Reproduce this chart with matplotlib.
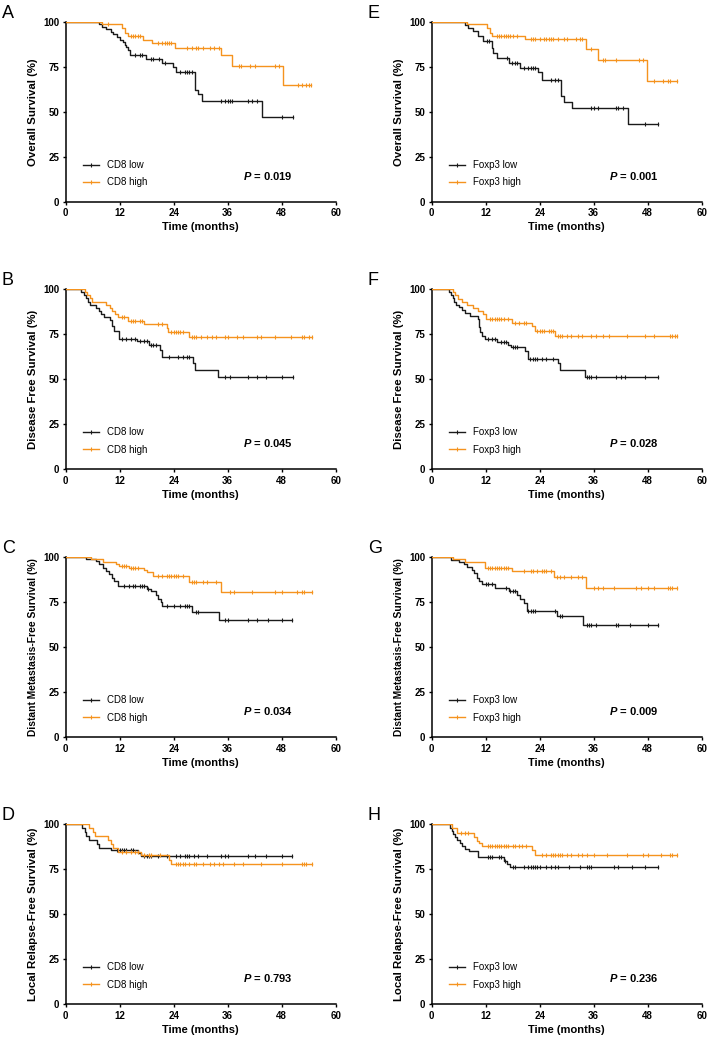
import matplotlib
matplotlib.use('agg')
import matplotlib.pyplot as plt
from matplotlib.lines import Line2D
import numpy as np

plt.rcParams['font.family'] = ['Liberation Sans', 'DejaVu Sans']
plt.rcParams['mathtext.fontset'] = 'custom'
plt.rcParams['mathtext.it'] = 'Liberation Sans:italic:bold'
plt.rcParams['mathtext.rm'] = 'Liberation Sans:bold'

BLACK = '#1a1a1a'
ORANGE = '#f5931e'

# ---- data: event times (months), survival after event (%), censor times ----
# A: OS, CD8
a_low_t = [7.4, 8.0, 9.0, 10.0, 10.6, 11.5, 12.1, 12.7, 13.1, 13.4, 13.8, 14.3, 17.9, 21.3, 23.9, 24.4, 28.7, 29.3, 30.2, 43.7]
a_low_s = [98.7, 97.4, 96.0, 94.6, 93.3, 91.5, 90.2, 88.8, 87.3, 85.9, 84.2, 81.5, 79.5, 77.2, 75.0, 72.5, 62.5, 60.0, 56.2, 47.0]
a_low_c = [15.5, 16.5, 17.0, 19.0, 19.5, 20.7, 22.0, 25.5, 26.5, 27.0, 27.5, 28.0, 34.5, 35.5, 36.0, 36.5, 37.0, 40.5, 41.5, 42.5, 48.0, 50.4]
a_high_t = [8.0, 12.6, 13.2, 13.8, 17.1, 19.1, 24.3, 34.4, 36.9, 48.2]
a_high_s = [98.8, 96.9, 94.0, 92.3, 90.0, 88.1, 85.7, 81.4, 75.6, 65.0]
a_high_c = [9.5, 14.5, 15.0, 15.5, 16.0, 16.5, 20.5, 21.5, 22.0, 22.5, 23.0, 23.5, 27.0, 28.0, 29.0, 29.5, 30.5, 32.0, 33.0, 34.0,
            38.5, 39.0, 41.0, 42.0, 46.5, 47.5, 51.7, 52.5, 53.5, 54.0, 54.5]

# E: OS, Foxp3
e_low_t = [7.4, 8.1, 9.2, 10.3, 11.5, 13.3, 13.7, 14.4, 17.2, 19.6, 23.6, 24.4, 28.8, 29.4, 31.2, 43.6]
e_low_s = [98.5, 96.8, 95.0, 92.5, 89.5, 85.5, 83.0, 80.1, 77.3, 74.6, 72.0, 67.7, 59.0, 55.8, 52.4, 43.6]
e_low_c = [12.2, 12.8, 16.8, 17.8, 18.5, 19.0, 20.5, 21.5, 22.0, 22.5, 23.0, 26.5, 27.5, 28.0, 35.5, 36.0, 37.0, 41.0, 41.5, 42.5, 47.5, 50.3]
e_high_t = [7.8, 12.2, 12.9, 13.5, 20.8, 34.2, 37.0, 47.9]
e_high_s = [98.7, 96.8, 94.0, 92.2, 90.3, 84.8, 79.0, 67.5]
e_high_c = [14.5, 15.0, 15.5, 16.0, 16.5, 17.0, 17.5, 18.0, 19.0, 22.0, 22.5, 23.0, 24.0, 25.0, 25.5, 26.0, 26.5, 27.0, 28.0, 29.5,
            30.0, 32.0, 33.0, 33.5, 35.5, 38.0, 38.5, 41.0, 46.0, 47.0, 49.5, 51.5, 52.5, 53.0, 54.5]

# B: DFS, CD8
b_low_t = [3.5, 4.0, 4.5, 5.0, 5.4, 6.8, 7.3, 7.9, 8.6, 9.9, 10.3, 10.8, 11.8, 15.9, 18.4, 21.0, 21.5, 28.2, 28.7, 33.9]
b_low_s = [98.3, 96.6, 94.9, 93.2, 91.5, 89.8, 88.1, 86.4, 84.7, 83.0, 79.7, 76.6, 72.5, 71.0, 69.3, 66.0, 62.3, 59.0, 55.3, 51.5]
b_low_c = [12.5, 13.5, 14.5, 15.3, 16.5, 17.5, 18.0, 19.0, 19.5, 20.0, 23.0, 25.0, 26.0, 27.0, 27.5, 35.5, 36.5, 40.5, 42.5, 44.5, 48.0, 50.4]
b_high_t = [4.3, 4.8, 5.3, 5.9, 9.0, 9.8, 10.3, 10.9, 11.6, 13.9, 17.4, 22.4, 22.8, 27.5]
b_high_s = [98.3, 96.6, 94.9, 93.2, 91.5, 89.8, 88.1, 86.4, 84.4, 82.6, 80.6, 78.5, 76.4, 73.3]
b_high_c = [12.5, 13.0, 14.5, 15.0, 15.5, 16.5, 17.0, 20.5, 21.5, 23.5, 24.0, 24.5, 25.0, 25.5, 26.0, 28.0, 28.5, 29.0, 30.0, 31.5,
            32.5, 33.5, 35.5, 36.0, 38.0, 39.5, 42.5, 43.5, 46.5, 50.0, 52.5, 53.0, 54.0, 54.7]

# F: DFS, Foxp3
f_low_t = [3.8, 4.3, 4.7, 5.0, 5.5, 6.1, 6.7, 7.4, 8.5, 10.2, 10.5, 10.8, 11.1, 11.8, 14.4, 17.0, 17.6, 20.7, 21.4, 28.1, 28.5, 34.0]
f_low_s = [98.3, 96.6, 94.9, 93.2, 91.5, 90.3, 88.5, 86.7, 85.0, 83.3, 79.0, 76.0, 74.1, 72.4, 70.7, 69.0, 67.8, 65.9, 61.4, 59.0, 55.3, 51.5]
f_low_c = [12.5, 13.5, 14.0, 15.5, 16.0, 16.5, 18.0, 18.5, 19.0, 21.8, 22.5, 23.0, 23.5, 24.5, 25.5, 27.0, 34.5, 35.0, 35.5, 36.5,
           41.0, 42.0, 43.0, 47.5, 50.3]
f_high_t = [4.7, 5.2, 5.9, 6.7, 7.8, 9.2, 10.3, 11.5, 12.0, 17.9, 22.2, 22.9, 27.3]
f_high_s = [98.3, 96.6, 94.8, 93.1, 91.4, 89.7, 88.0, 86.3, 83.5, 81.5, 79.6, 77.0, 74.0]
f_high_c = [13.0, 13.5, 14.0, 14.5, 15.0, 15.5, 16.0, 17.0, 18.5, 19.5, 20.5, 21.0, 23.5, 24.0, 24.5, 25.0, 26.0, 26.5, 27.0, 28.0,
            28.5, 29.0, 30.0, 31.0, 32.5, 33.5, 35.5, 36.5, 38.0, 39.5, 43.5, 47.5, 49.5, 53.0, 53.5, 54.0, 54.5]

# C: DMFS, CD8
c_low_t = [4.4, 6.8, 7.5, 8.3, 9.0, 9.7, 10.2, 10.7, 11.6, 18.0, 18.9, 20.0, 20.6, 21.1, 21.5, 28.0, 34.0]
c_low_s = [98.9, 97.8, 96.1, 94.3, 92.6, 90.9, 88.4, 86.7, 84.0, 82.5, 81.5, 79.0, 77.0, 75.0, 72.7, 69.4, 64.9]
c_low_c = [13.0, 14.0, 15.0, 15.5, 16.5, 17.0, 17.5, 18.3, 22.5, 24.0, 25.5, 26.5, 27.0, 27.5, 29.0, 29.5, 35.5, 36.0, 40.5, 42.5,
           45.0, 48.0, 50.3]
c_high_t = [5.7, 8.3, 11.2, 11.9, 14.1, 17.5, 18.0, 19.3, 27.4, 34.4]
c_high_s = [98.8, 97.6, 96.4, 95.2, 94.0, 92.8, 91.6, 89.4, 86.2, 80.7]
c_high_c = [12.5, 13.0, 13.5, 14.5, 15.0, 15.5, 16.0, 20.5, 21.5, 22.5, 23.0, 23.5, 24.0, 24.5, 25.0, 26.0, 28.0, 28.5, 29.0, 30.5,
            31.5, 33.5, 36.5, 37.5, 41.5, 46.5, 48.0, 51.5, 52.5, 53.0, 54.7]

# G: DMFS, Foxp3
g_low_t = [4.2, 6.0, 7.1, 7.9, 9.0, 9.4, 10.1, 10.5, 11.1, 14.1, 17.2, 18.9, 19.7, 20.4, 21.1, 27.8, 33.7]
g_low_s = [98.7, 97.5, 96.3, 94.6, 92.8, 91.0, 88.5, 86.7, 85.1, 83.0, 81.3, 79.0, 77.0, 74.8, 70.1, 67.4, 62.4]
g_low_c = [12.0, 12.5, 13.5, 16.5, 17.5, 18.0, 18.5, 21.5, 22.0, 22.5, 23.0, 27.5, 28.5, 29.0, 34.5, 35.0, 35.5, 36.5, 41.0, 41.5,
           44.0, 48.0, 50.3]
g_high_t = [4.8, 7.5, 11.8, 17.8, 27.2, 34.3]
g_high_s = [98.8, 97.2, 94.2, 92.2, 88.8, 82.9]
g_high_c = [12.5, 13.0, 13.5, 14.0, 14.5, 15.0, 15.5, 16.0, 16.5, 17.0, 20.5, 22.0, 22.5, 23.5, 24.5, 25.0, 25.5, 26.5, 27.8, 28.5,
            29.5, 31.0, 32.5, 33.5, 36.0, 37.0, 38.0, 40.5, 45.5, 46.5, 48.0, 49.5, 52.5, 53.0, 53.5, 54.5]

# D: LRFS, CD8
d_low_t = [3.7, 4.2, 4.6, 5.1, 7.0, 7.5, 10.1, 16.0, 16.7]
d_low_s = [97.8, 95.6, 93.3, 91.1, 88.9, 86.7, 85.6, 84.0, 82.2]
d_low_c = [11.5, 12.0, 12.5, 13.0, 13.5, 14.5, 15.0, 17.5, 18.0, 18.5, 19.0, 20.5, 22.5, 24.5, 25.5, 26.5, 27.0, 27.5, 28.5, 29.5,
           31.5, 34.5, 35.5, 36.0, 40.5, 42.0, 44.5, 48.0, 50.3]
d_high_t = [5.1, 6.0, 6.6, 9.4, 10.1, 10.6, 11.6, 16.7, 23.0, 23.4]
d_high_s = [97.8, 95.6, 93.3, 91.1, 88.9, 86.7, 84.4, 82.8, 80.0, 77.8]
d_high_c = [12.5, 13.5, 14.5, 15.5, 16.0, 17.5, 18.5, 19.0, 21.0, 24.5, 25.0, 25.5, 26.0, 26.5, 27.5, 28.5, 29.0, 30.5, 32.0, 33.0,
            34.0, 35.0, 37.5, 39.5, 43.5, 48.0, 52.5, 53.0, 53.5, 54.7]

# H: LRFS, Foxp3
h_low_t = [4.1, 4.4, 4.8, 5.2, 5.7, 6.2, 6.8, 7.5, 8.3, 10.3, 16.0, 16.7, 17.5]
h_low_s = [98.2, 96.5, 94.8, 93.1, 91.4, 89.8, 88.1, 86.5, 84.9, 81.6, 79.8, 78.1, 76.4]
h_low_c = [12.5, 13.0, 13.5, 15.0, 15.5, 16.3, 18.0, 18.5, 20.5, 21.5, 22.0, 22.5, 23.0, 23.5, 24.0, 25.5, 26.5, 27.5, 28.0, 30.5,
           33.0, 34.5, 35.0, 35.5, 40.5, 41.5, 44.5, 47.5, 50.3]
h_high_t = [4.4, 5.6, 9.4, 10.1, 10.5, 11.1, 22.3, 23.0]
h_high_s = [97.8, 95.4, 93.2, 91.0, 89.8, 88.0, 85.5, 83.1]
h_high_c = [6.5, 7.5, 8.0, 12.5, 13.0, 13.5, 14.0, 14.5, 15.0, 15.5, 16.0, 16.5, 17.0, 18.0, 18.5, 19.5, 20.0, 21.0, 24.5, 25.5,
            26.5, 27.0, 27.5, 28.0, 28.5, 29.0, 30.0, 31.0, 32.5, 33.5, 34.5, 36.0, 39.0, 43.5, 47.0, 48.0, 51.0, 53.0, 53.5, 54.5]

letters = ['A', 'B', 'C', 'D', 'E', 'F', 'G', 'H']
ylabels = ['Overall Survival (%)', 'Disease Free Survival (%)',
           'Distant Metastasis-Free Survival (%)', 'Local Relapse-Free Survival (%)']
markers = ['CD8', 'Foxp3']
pvalues = ['0.019', '0.045', '0.034', '0.793', '0.001', '0.028', '0.009', '0.236']

curves = [
    (a_low_t, a_low_s, a_low_c, a_high_t, a_high_s, a_high_c),
    (b_low_t, b_low_s, b_low_c, b_high_t, b_high_s, b_high_c),
    (c_low_t, c_low_s, c_low_c, c_high_t, c_high_s, c_high_c),
    (d_low_t, d_low_s, d_low_c, d_high_t, d_high_s, d_high_c),
    (e_low_t, e_low_s, e_low_c, e_high_t, e_high_s, e_high_c),
    (f_low_t, f_low_s, f_low_c, f_high_t, f_high_s, f_high_c),
    (g_low_t, g_low_s, g_low_c, g_high_t, g_high_s, g_high_c),
    (h_low_t, h_low_s, h_low_c, h_high_t, h_high_s, h_high_c),
]


def km(ax, t, s, c, color):
    t = np.asarray(t)
    s = np.asarray(s)
    c = np.asarray(c)
    x = np.concatenate([[0], t, [c.max()]])
    y = np.concatenate([[100], s, [s[-1]]])
    ax.step(x, y, where='post', color=color, lw=1.0, zorder=3)
    idx = np.searchsorted(t, c, side='right')
    cy = np.where(idx == 0, 100, s[np.maximum(idx - 1, 0)])
    ax.plot(c, cy, ls='none', marker='|', ms=3, mew=0.8, color=color, zorder=3)


W, H = 709, 1041
fig = plt.figure(figsize=(W / 100, H / 100), dpi=100)

lefts = [65.7, 431.7]
bottoms = [202, 469.3, 737.3, 1004.3]
aw, ah = 270, 180

for i in range(8):
    col = i // 4
    row = i % 4
    ax = fig.add_axes([lefts[col] / W, 1 - bottoms[row] / H, aw / W, ah / H])
    lt, ls_, lc, ht, hs, hc = curves[i]
    km(ax, lt, ls_, lc, BLACK)
    km(ax, ht, hs, hc, ORANGE)

    ax.set_xlim(0, 60)
    ax.set_ylim(0, 100)
    ax.set_xticks([0, 12, 24, 36, 48, 60])
    ax.set_yticks([0, 25, 50, 75, 100])
    for sp in ['top', 'right']:
        ax.spines[sp].set_visible(False)
    for sp in ['left', 'bottom']:
        ax.spines[sp].set_linewidth(1.1)
    ax.tick_params(direction='out', length=2.5, width=1.0, labelsize=7, pad=2)
    for lab in ax.get_xticklabels() + ax.get_yticklabels():
        lab.set_fontweight('bold')
    ax.set_xlabel('Time (months)', fontsize=8, fontweight='bold', labelpad=3)
    ysize = 7.4 if row == 2 else 8.2
    ax.set_ylabel(ylabels[row], fontsize=ysize, fontweight='bold', labelpad=4)

    ax.text(-0.236, 1.024, letters[i], transform=ax.transAxes, fontsize=13,
            ha='left', va='baseline')

    m = markers[col]
    handles = [Line2D([], [], color=BLACK, lw=1.0, marker='|', ms=3, mew=0.8),
               Line2D([], [], color=ORANGE, lw=1.0, marker='|', ms=3, mew=0.8)]
    ax.legend(handles, [m + ' low', m + ' high'], loc='center left',
              bbox_to_anchor=(0.065, 0.158), frameon=False, fontsize=7,
              handlelength=1.65, handletextpad=0.8, labelspacing=0.75,
              borderpad=0, borderaxespad=0, numpoints=1)

    ax.text(0.84, 0.147, r'$\it{P}$ = ' + pvalues[i], transform=ax.transAxes,
            fontsize=8, fontweight='bold', ha='right', va='center')

fig.savefig('out.png', dpi=100)
